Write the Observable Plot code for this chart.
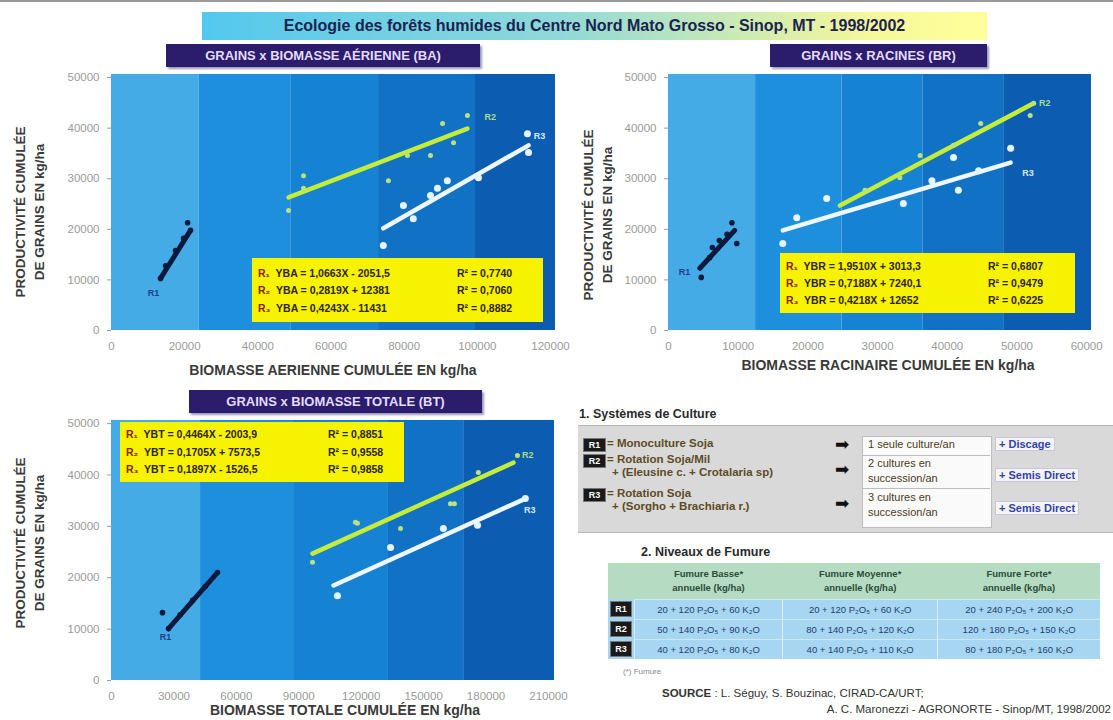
<!DOCTYPE html>
<html><head><meta charset="utf-8">
<script src="https://cdn.jsdelivr.net/npm/d3@7"></script>
<script src="https://cdn.jsdelivr.net/npm/@observablehq/plot@0.6"></script>
<style>
body{margin:0;background:#fff;font-family:"Liberation Sans",Arial,sans-serif;}
#page{position:relative;width:1113px;height:720px;overflow:hidden;background:#fff;}
.abs{position:absolute;white-space:nowrap;}
.ttl{background:#2b1c6c;color:#e4dcff;font-weight:bold;font-size:13px;display:flex;align-items:center;justify-content:center;box-shadow:2px 2px 2px #9a9ab8;}
.ytitle{font-weight:bold;font-size:13.5px;color:#3a3a3a;transform:translate(-50%,-50%) rotate(-90deg);text-align:center;}
.xtitle{font-weight:bold;font-size:14px;color:#3a3a3a;transform:translate(-50%,-50%);}
.eq{background:#f6f200;font-weight:bold;font-size:10.5px;color:#2e2410;}
.eq div{position:absolute;}
.eq .r{color:#8a2000;}
.badge{background:#1a1a1a;color:#fff;font-weight:bold;font-size:9px;display:flex;align-items:center;justify-content:center;border:1px solid #777;}
.lg{font-weight:bold;font-size:11.5px;color:#5d4c25;}
.wb{font-size:11px;color:#4a3a20;}
.bl{font-weight:bold;font-size:11px;color:#3242a8;}
table{border-collapse:collapse;}
</style></head><body><div id="page"></div>
<script>
// ---------- DATA ----------
const yTicks = [0, 10000, 20000, 30000, 40000, 50000];

// BA : grains x biomasse aérienne
const baTicksX = [0, 20000, 40000, 60000, 80000, 100000, 120000];
const baBandEdges = [0, 24000, 49000, 73000, 99500, 121370];
const baR1 = [[13400,10300],[14800,12800],[17500,15800],[19700,18200],[20800,21300],[21600,19800]];
const baR2 = [[48400,23700],[52500,30600],[52500,28100],[75700,29600],[80900,34600],[87200,34600],[90500,40900],[93500,37100],[97300,42500]];
const baR3 = [[74300,16800],[79800,24700],[82500,22100],[87200,26700],[89100,28100],[91800,29600],[100300,30200],[113700,38900],[114000,35200]];
const baFit1 = [[13400,10300],[21600,19800]];
const baFit2 = [[48400,26300],[97300,39900]];
const baFit3 = [[74300,20200],[114000,36600]];
const baTags = [{t:"R1",x:11500,y:7300,s:1},{t:"R2",x:103500,y:42100,s:2},{t:"R3",x:117000,y:38500,s:3}];
const baEqs = ["YBA = 1,0663X - 2051,5","YBA = 0,2819X + 12381","YBA = 0,4243X - 11431"];
const baRsq = ["R² = 0,7740","R² = 0,7060","R² = 0,8882"];

// BR : grains x racines
const brTicksX = [0, 10000, 20000, 30000, 40000, 50000, 60000];
const brBandEdges = [0, 12500, 24900, 36500, 48200, 60700];
const brR1 = [[4700,10500],[5900,14400],[6300,16400],[7300,17800],[9100,21300],[9800,17200],[8400,19000]];
const brR2 = [[28200,27700],[33200,30200],[36100,34600],[40900,36600],[44800,40900],[51900,42500],[52400,44900]];
const brR3 = [[16400,17200],[18400,22300],[22700,26100],[33700,25100],[37800,29600],[41600,27700],[40900,34200],[44500,31600],[49100,36000]];
const brFit1 = [[4500,12300],[9500,19800]];
const brFit2 = [[24600,24700],[52400,44900]];
const brFit3 = [[16400,19800],[49100,33200]];
const brTags = [{t:"R1",x:2300,y:11500,s:1},{t:"R2",x:54000,y:45000,s:2},{t:"R3",x:51600,y:31200,s:3}];
const brEqs = ["YBR = 1,9510X + 3013,3","YBR = 0,7188X + 7240,1","YBR = 0,4218X + 12652"];
const brRsq = ["R² = 0,6807","R² = 0,9479","R² = 0,6225"];

// BT : grains x biomasse totale
const btTicksX = [0, 30000, 60000, 90000, 120000, 150000, 180000, 210000];
const btBandEdges = [0, 42800, 87500, 133100, 169600, 212900];
const btR1 = [[24500,13200],[27400,10100],[33000,12800],[39000,15600],[45000,18300],[50900,21000]];
const btR2 = [[96600,23000],[117200,30800],[118200,30600],[138900,29600],[162900,34400],[164800,34400],[176300,40500],[195100,43800]];
const btR3 = [[108600,16500],[134100,25900],[159500,29600],[175900,30200],[198900,35400]];
const btFit1 = [[27400,10100],[50900,21000]];
const btFit2 = [[96600,24700],[193200,42400]];
const btFit3 = [[106700,18500],[198900,35400]];
const btTags = [{t:"R1",x:25900,y:8400,s:1},{t:"R2",x:200000,y:43800,s:2},{t:"R3",x:201000,y:33100,s:3}];
const btEqs = ["YBT = 0,4464X - 2003,9","YBT = 0,1705X + 7573,5","YBT = 0,1897X - 1526,5"];
const btRsq = ["R² = 0,8851","R² = 0,9558","R² = 0,9858"];

// Légende
const systemes = [
  {id:"R1", l1:"= Monoculture Soja", l2:"", cult:["1 seule culture/an"], tech:"+ Discage"},
  {id:"R2", l1:"= Rotation Soja/Mil", l2:"+ (Eleusine c. + Crotalaria sp)", cult:["2 cultures en","succession/an"], tech:"+ Semis Direct"},
  {id:"R3", l1:"= Rotation Soja", l2:"+ (Sorgho + Brachiaria r.)", cult:["3 cultures en","succession/an"], tech:"+ Semis Direct"}
];
const fumureCols = ["Fumure Basse*", "Fumure Moyenne*", "Fumure Forte*"];
const fumureRows = ["R1","R2","R3"];
const fumureVals = [
  ["20 + 120 P₂O₅ + 60 K₂O","20 + 120 P₂O₅ + 60 K₂O","20 + 240 P₂O₅ + 200 K₂O"],
  ["50 + 140 P₂O₅ + 90 K₂O","80 + 140 P₂O₅ + 120 K₂O","120 + 180 P₂O₅ + 150 K₂O"],
  ["40 + 120 P₂O₅ + 80 K₂O","40 + 140 P₂O₅ + 110 K₂O","80 + 180 P₂O₅ + 160 K₂O"]
];

// ---------- RENDER ----------
const page = document.getElementById("page");
function add(html, css, cls){const d=document.createElement("div");d.className="abs "+(cls||"");d.style.cssText=css;d.innerHTML=html;page.appendChild(d);return d;}

const bandColors = ["#44abe7","#1d8fdd","#1682d4","#1071c5","#0c5db2"];
const sCol = {1:"#0b1a3c",2:"#c4ec3a",3:"#eef7ff"};
const tagCol = {1:"#1f3f86",2:"#a6dc8c",3:"#d6ebff"};

function chart(o){
  const bands = o.bands.slice(0,-1).map((x,i)=>({x1:x,x2:o.bands[i+1],fill:bandColors[i]}));
  const X = d=>d[0], Y = d=>d[1];
  return Plot.plot({
    width:o.w, height:o.h, marginLeft:o.ml, marginRight:o.mr, marginTop:o.mt, marginBottom:o.mb,
    style:{background:"transparent",fontFamily:"'Liberation Sans', Arial, sans-serif",fontSize:"11.5px",color:"#9a9a9a",overflow:"visible"},
    x:{domain:o.xd, ticks:o.xt, tickFormat:d3.format("d"), tickSize:0, tickPadding:11, label:null},
    y:{domain:o.yd, ticks:yTicks, tickFormat:d3.format("d"), tickSize:4, tickPadding:8, label:null},
    color:{type:"identity"},
    marks:[
      Plot.rect(bands,{x1:"x1",x2:"x2",y1:o.yd[0],y2:o.yd[1],fill:"fill"}),
      Plot.line(o.fit2,{x:X,y:Y,stroke:sCol[2],strokeWidth:4.5}),
      Plot.line(o.fit3,{x:X,y:Y,stroke:sCol[3],strokeWidth:4.5}),
      Plot.line(o.fit1,{x:X,y:Y,stroke:sCol[1],strokeWidth:5}),
      Plot.dot(o.r2,{x:X,y:Y,fill:"#b9e27a",r:2.5}),
      Plot.dot(o.r3,{x:X,y:Y,fill:"#e6f4ff",r:3.5}),
      Plot.dot(o.r1,{x:X,y:Y,fill:sCol[1],r:2.8}),
      Plot.text(o.tags,{x:"x",y:"y",text:"t",fill:d=>tagCol[d.s],fontSize:9,fontWeight:"bold"})
    ]
  });
}

function place(svg,left,top){const d=add("",`left:${left}px;top:${top}px;`);d.appendChild(svg);}

// top strip & main title
add("",`left:0;top:0;width:1113px;height:2px;background:#9a9a9a;`);
add("Ecologie des forêts humides du Centre Nord Mato Grosso - Sinop, MT - 1998/2002",
  `left:202px;top:12px;width:785px;height:28px;background:linear-gradient(90deg,#52c8ef 0%,#8fd8d8 45%,#f6f79a 85%,#ffff9a 100%);font-weight:bold;font-size:16px;color:#1b2350;display:flex;align-items:center;justify-content:center;`);

// Chart BA
place(chart({w:560,h:300,ml:111,mr:5,mt:14,mb:30,xd:[0,121370],yd:[0,50600],xt:baTicksX,bands:baBandEdges,
  r1:baR1,r2:baR2,r3:baR3,fit1:baFit1,fit2:baFit2,fit3:baFit3,tags:baTags}),0,60);
// Chart BR
place(chart({w:553,h:300,ml:108,mr:22,mt:14,mb:30,xd:[0,60700],yd:[0,50600],xt:brTicksX,bands:brBandEdges,
  r1:brR1,r2:brR2,r3:brR3,fit1:brFit1,fit2:brFit2,fit3:brFit3,tags:brTags}),560,60);
// Chart BT
place(chart({w:560,h:300,ml:111,mr:6,mt:15,mb:25,xd:[0,212900],yd:[0,50600],xt:btTicksX,bands:btBandEdges,
  r1:btR1,r2:btR2,r3:btR3,fit1:btFit1,fit2:btFit2,fit3:btFit3,tags:btTags}),0,405);

// chart titles
add("GRAINS x BIOMASSE AÉRIENNE (BA)",`left:166px;top:44px;width:314px;height:23px;`,"ttl");
add("GRAINS x RACINES (BR)",`left:770px;top:44px;width:217px;height:23px;`,"ttl");
add("GRAINS x BIOMASSE TOTALE (BT)",`left:189px;top:390px;width:293px;height:23px;`,"ttl");

// axis titles
const yt = "PRODUCTIVITÉ CUMULÉE<br>DE GRAINS EN kg/ha";
add(yt,`left:30px;top:212px;line-height:19px;`,"ytitle");
add(yt,`left:598px;top:215px;line-height:19px;`,"ytitle");
add(yt,`left:30px;top:543px;line-height:19px;`,"ytitle");
add("BIOMASSE AERIENNE CUMULÉE EN kg/ha",`left:333px;top:370px;`,"xtitle");
add("BIOMASSE RACINAIRE CUMULÉE EN kg/ha",`left:888px;top:365px;`,"xtitle");
add("BIOMASSE TOTALE CUMULÉE EN kg/ha",`left:345px;top:710px;`,"xtitle");

// equation boxes
function eqBox(left,top,w,h,name,eqs,rsq,rx,dy){
  const d = add("",`left:${left}px;top:${top}px;width:${w}px;height:${h}px;`,"eq");
  const sub=["₁","₂","₃"];
  eqs.forEach((e,i)=>{
    const a=document.createElement("div");a.style.cssText=`left:6px;top:${dy[i]}px;`;a.innerHTML=`<span class="r">R${sub[i]}</span>&nbsp; ${e}`;d.appendChild(a);
    const b=document.createElement("div");b.style.cssText=`left:${rx}px;top:${dy[i]}px;`;b.textContent=rsq[i];d.appendChild(b);
  });
}
eqBox(252,258,291,64,"BA",baEqs,baRsq,205,[9,26,44]);
eqBox(780,253,295,60,"BR",brEqs,brRsq,208,[7,24,41]);
eqBox(120,422,284,60,"BT",btEqs,btRsq,208,[6,24,41]);

// Légende 1
add("1. Systèmes de Culture",`left:579px;top:407px;font-weight:bold;font-size:12.5px;color:#2a2a2a;`);
add("",`left:578px;top:425px;width:540px;height:106px;background:#d9d9d9;border-top:1px solid #b8b8b8;border-bottom:1px solid #b8b8b8;`);
add("",`left:862px;top:436px;width:128px;height:90px;background:#fafafa;border:1px solid #bdbdbd;`);
const rowTop=[438,454,488];
systemes.forEach((s,i)=>{
  const t=rowTop[i];
  add(s.id,`left:583px;top:${t}px;width:21px;height:12px;`,"badge");
  add(s.l1,`left:607px;top:${t-1}px;`,"lg");
  if(s.l2) add(s.l2,`left:612px;top:${t+12}px;`,"lg");
});
const arrowY=[437,462,496], cultY=[437,456,490];
systemes.forEach((s,i)=>{
  add("➡",`left:835px;top:${arrowY[i]}px;font-size:17px;color:#111;line-height:16px;`);
  add(s.cult.join("<br>"),`left:868px;top:${cultY[i]}px;line-height:15px;`,"wb");
});
add("",`left:862px;top:455px;width:128px;height:1px;background:#bdbdbd;`);
add("",`left:862px;top:488px;width:128px;height:1px;background:#bdbdbd;`);
const techY=[437,468,501];
systemes.forEach((s,i)=>{
  add(s.tech,`left:995px;top:${techY[i]}px;background:#f4f4f8;padding:0 3px;border:1px solid #c8c8d8;`,"bl");
});

// Légende 2
add("2. Niveaux de Fumure",`left:641px;top:545px;font-weight:bold;font-size:12.5px;color:#2a2a2a;`);
let th = `<table style="width:492px;font-size:9.5px;">`;
th += `<tr style="background:#b5dcc3;height:36px;"><td style="width:24px;"></td>`+fumureCols.map(c=>`<td style="text-align:center;font-weight:bold;color:#2c4a38;line-height:14px;">${c}<br>annuelle (kg/ha)</td>`).join("")+`</tr>`;
fumureRows.forEach((r,i)=>{
  th += `<tr style="background:#a6d6f2;height:20px;"><td style="padding:0 2px;"><div class="badge" style="width:20px;height:14px;">${r}</div></td>`+
    fumureVals[i].map(v=>`<td style="text-align:center;color:#24406e;border-left:1px solid #d6ecf8;border-top:1px solid #cfe8f6;">${v}</td>`).join("")+`</tr>`;
});
th += `</table>`;
add(th,`left:608px;top:563px;`);
add("(*) Fumure",`left:623px;top:667px;font-size:8px;color:#888;`);
add("<b>SOURCE</b> : L. Séguy, S. Bouzinac, CIRAD-CA/URT;",`left:662px;top:687px;font-size:11.5px;color:#333;`);
add("A. C. Maronezzi - AGRONORTE - Sinop/MT, 1998/2002",`right:2px;top:703px;font-size:11.5px;color:#333;`);
</script></body></html>
